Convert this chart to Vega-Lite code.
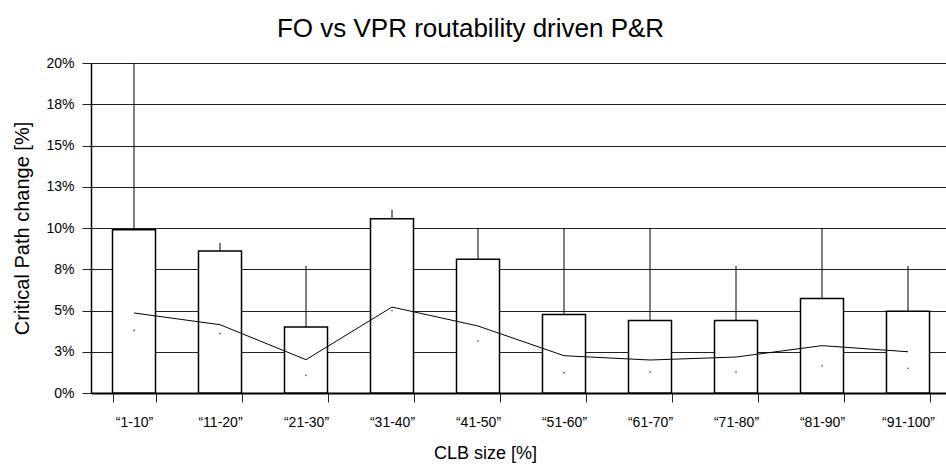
{
  "$schema": "https://vega.github.io/schema/vega-lite/v6.json",
  "width": 855,
  "height": 330,
  "autosize": "none",
  "padding": {"left": 91, "top": 63, "right": 0, "bottom": 76},
  "background": "white",
  "title": {
    "text": "FO vs VPR routability driven P&R",
    "fontSize": 26,
    "font": "Liberation Sans",
    "fontWeight": "normal",
    "color": "black",
    "anchor": "middle",
    "frame": "group",
    "dx": -48,
    "dy": 28,
    "baseline": "alphabetic",
    "offset": 21
  },
  "config": {
    "view": {"stroke": null},
    "font": "Liberation Sans",
    "axisY": {
      "labelExpr": "ceil(datum.value) + '%'",
      "grid": true,
      "gridColor": "#222",
      "gridWidth": 1,
      "gridOpacity": 1,
      "tickColor": "#222",
      "tickSize": 9,
      "domainColor": "black",
      "domainWidth": 1.5,
      "labelFontSize": 14,
      "labelColor": "black",
      "labelPadding": 8,
      "titleFontSize": 20,
      "titleFontWeight": "normal",
      "titleColor": "black",
      "titleX": -69,
      "titleY": 165,
      "titleBaseline": "middle",
      "titleAlign": "center"
    },
    "axisX": {
      "labelAngle": 0,
      "tickBand": "extent",
      "tickSize": 9,
      "tickColor": "#222",
      "domainColor": "black",
      "domainWidth": 2,
      "labelFontSize": 14,
      "labelColor": "black",
      "labelPadding": 13,
      "titleFontSize": 18,
      "titleFontWeight": "normal",
      "titleColor": "black",
      "titleX": 394,
      "titleY": 65,
      "titleBaseline": "alphabetic",
      "titleAlign": "center",
      "grid": false
    }
  },
  "data": {
    "values": [
      {"cat": "“1-10”", "val": 9.9, "hi": 20, "line": 4.85, "dot": 3.8},
      {"cat": "“11-20”", "val": 8.6, "hi": 9.1, "line": 4.14, "dot": 3.6},
      {"cat": "“21-30”", "val": 4.0, "hi": 7.7, "line": 2.02, "dot": 1.07},
      {"cat": "“31-40”", "val": 10.56, "hi": 11.1, "line": 5.21, "dot": 5.0},
      {"cat": "“41-50”", "val": 8.1, "hi": 10.0, "line": 4.06, "dot": 3.15},
      {"cat": "“51-60”", "val": 4.76, "hi": 10.0, "line": 2.26, "dot": 1.23},
      {"cat": "“61-70”", "val": 4.4, "hi": 10.0, "line": 2.0, "dot": 1.27},
      {"cat": "“71-80”", "val": 4.4, "hi": 7.7, "line": 2.18, "dot": 1.27},
      {"cat": "“81-90”", "val": 5.73, "hi": 10.0, "line": 2.87, "dot": 1.65},
      {"cat": "“91-100”", "val": 4.95, "hi": 7.7, "line": 2.5, "dot": 1.5}
    ]
  },
  "encoding": {
    "x": {
      "field": "cat",
      "type": "nominal",
      "sort": null,
      "title": "CLB size [%]",
      "scale": {"range": [0, 860], "paddingInner": 0.5, "paddingOuter": 0.25}
    }
  },
  "layer": [
    {
      "mark": {"type": "rule", "color": "black", "strokeWidth": 1},
      "encoding": {
        "y": {"field": "val", "type": "quantitative", "title": "Critical Path change [%]", "scale": {"domain": [0, 20], "nice": false}, "axis": {"values": [0, 2.5, 5, 7.5, 10, 12.5, 15, 17.5, 20]}},
        "y2": {"field": "hi"}
      }
    },
    {
      "mark": {"type": "bar", "fill": "white", "stroke": "black", "strokeWidth": 1.5},
      "encoding": {
        "y": {"field": "val", "type": "quantitative", "title": "Critical Path change [%]", "axis": {"values": [0, 2.5, 5, 7.5, 10, 12.5, 15, 17.5, 20]}}
      }
    },
    {
      "mark": {"type": "line", "color": "black", "strokeWidth": 1},
      "encoding": {
        "y": {"field": "line", "type": "quantitative", "title": "Critical Path change [%]", "axis": {"values": [0, 2.5, 5, 7.5, 10, 12.5, 15, 17.5, 20]}}
      }
    },
    {
      "mark": {"type": "point", "filled": true, "color": "#555", "size": 3, "opacity": 1},
      "encoding": {
        "y": {"field": "dot", "type": "quantitative", "title": "Critical Path change [%]", "axis": {"values": [0, 2.5, 5, 7.5, 10, 12.5, 15, 17.5, 20]}}
      }
    }
  ]
}
